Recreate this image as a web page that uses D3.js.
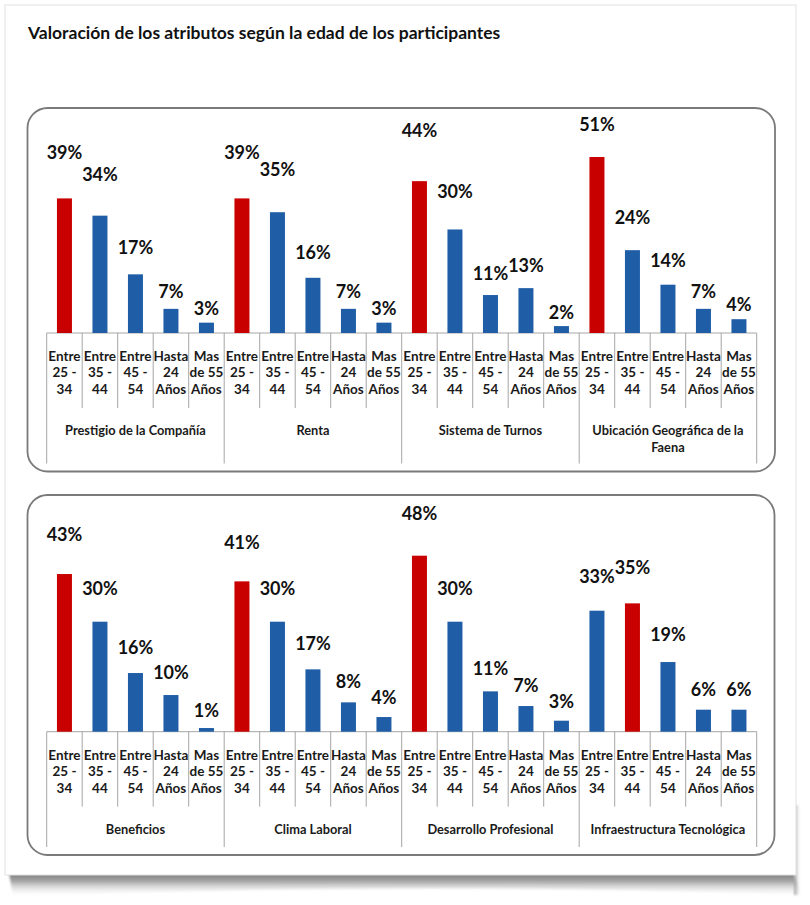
<!DOCTYPE html>
<html>
<head>
<meta charset="utf-8">
<script src="https://cdn.jsdelivr.net/npm/d3@7"></script>
<style>
  html, body { margin: 0; padding: 0; background: #ffffff; }
  svg { display: block; }
</style>
</head>
<body>
<svg id="chart" width="810" height="905"></svg>
<script>
// ---------- DATA ----------
const title = "Valoración de los atributos según la edad de los participantes";
const ageLabels = [
  ["Entre", "25 -", "34"],
  ["Entre", "35 -", "44"],
  ["Entre", "45 -", "54"],
  ["Hasta", "24", "Años"],
  ["Mas", "de 55", "Años"]
];
const groupsTop = ["Prestigio de la Compañía", "Renta", "Sistema de Turnos", "Ubicación Geográfica de la Faena"];
const valuesTop = [
  [39, 34, 17, 7, 3],
  [39, 35, 16, 7, 3],
  [44, 30, 11, 13, 2],
  [51, 24, 14, 7, 4]
];
const groupsBottom = ["Beneficios", "Clima Laboral", "Desarrollo Profesional", "Infraestructura Tecnológica"];
const valuesBottom = [
  [43, 30, 16, 10, 1],
  [41, 30, 17, 8, 4],
  [48, 30, 11, 7, 3],
  [33, 35, 19, 6, 6]
];

// ---------- STYLE / LAYOUT ----------
const RED = "#c80000", BLUE = "#1f5ea6";
const FONT = "Lato, 'Open Sans', 'DejaVu Sans', sans-serif";
const svg = d3.select("#chart");
const defs = svg.append("defs");

// card shadow
const g1 = defs.append("linearGradient").attr("id", "shadowGrad").attr("x1", 0).attr("y1", 0).attr("x2", 0).attr("y2", 1);
g1.append("stop").attr("offset", "0%").attr("stop-color", "#7a7a7a");
g1.append("stop").attr("offset", "35%").attr("stop-color", "#a8a8a8");
g1.append("stop").attr("offset", "100%").attr("stop-color", "#ffffff").attr("stop-opacity", 0);
const g2 = defs.append("linearGradient").attr("id", "sideGrad").attr("x1", 0).attr("y1", 0).attr("x2", 1).attr("y2", 0);
g2.append("stop").attr("offset", "0%").attr("stop-color", "#9a9a9a");
g2.append("stop").attr("offset", "100%").attr("stop-color", "#ffffff").attr("stop-opacity", 0);
defs.append("filter").attr("id", "blur").attr("x", "-10%").attr("y", "-50%").attr("width", "120%").attr("height", "200%")
  .append("feGaussianBlur").attr("stdDeviation", 1);

const card = {x: 5, y: 5, w: 791, h: 870};
svg.append("path")
  .attr("d", `M${card.x + 4},${card.y + card.h - 2} L${card.x + card.w - 2},${card.y + card.h - 2}
              L${card.x + card.w + 4},${card.y + card.h + 20}
              Q${card.x + card.w / 2},${card.y + card.h + 6} ${card.x + 8},${card.y + card.h + 22} Z`)
  .attr("fill", "url(#shadowGrad)").attr("filter", "url(#blur)");
svg.append("rect")
  .attr("x", card.x + card.w - 2).attr("y", card.y + card.h - 70).attr("width", 7).attr("height", 90)
  .attr("fill", "url(#sideGrad)").attr("filter", "url(#blur)");
svg.append("rect")
  .attr("x", card.x).attr("y", card.y).attr("width", card.w).attr("height", card.h)
  .attr("fill", "#ffffff").attr("stroke", "#e2e2e2").attr("stroke-width", 1);

svg.append("text")
  .attr("x", 28).attr("y", 39)
  .attr("font-family", FONT).attr("font-weight", "bold").attr("font-size", 17.5)
  .attr("fill", "#111").text(title);

const chartLeft = 46.7, chartRight = 756.7;

function wrap(textSel, width, lineH) {
  textSel.each(function () {
    const t = d3.select(this);
    const words = t.text().split(/\s+/);
    const x = t.attr("x"), y = t.attr("y");
    t.text(null);
    let line = [], tspan = t.append("tspan").attr("x", x).attr("y", y);
    let n = 0;
    for (const w of words) {
      line.push(w);
      tspan.text(line.join(" "));
      if (tspan.node().getComputedTextLength() > width && line.length > 1) {
        line.pop();
        tspan.text(line.join(" "));
        line = [w];
        n++;
        tspan = t.append("tspan").attr("x", x).attr("y", +y + n * lineH).text(w);
      }
    }
  });
}

function drawPanel(groups, values, p) {
  const root = svg.append("g");
  root.append("rect")
    .attr("x", p.rx).attr("y", p.ry).attr("width", p.rw).attr("height", p.rh)
    .attr("rx", 20).attr("ry", 20)
    .attr("fill", "#ffffff").attr("stroke", "#7a7a7a").attr("stroke-width", 1.8);

  const rows = [];
  groups.forEach((gname, gi) => {
    const gmax = d3.max(values[gi]);
    values[gi].forEach((v, ai) => rows.push({key: gi + "-" + ai, gi, ai, v, top: v === gmax}));
  });

  const x = d3.scaleBand().domain(rows.map(d => d.key)).range([chartLeft, chartRight]).padding(0);
  const gx = d3.scaleBand().domain(groups).range([chartLeft, chartRight]).padding(0);
  const maxV = d3.max(rows, d => d.v);
  const y = d3.scaleLinear().domain([0, maxV]).range([p.base, p.base - 176]);
  const yl = d3.scaleLinear().domain([0, maxV]).range([p.base - p.lOff, p.base - p.lOff - p.lSpan]);
  const bw = 15;

  // axis line + separators
  root.append("line").attr("x1", chartLeft).attr("x2", chartRight).attr("y1", p.base).attr("y2", p.base)
    .attr("stroke", "#a6a6a6").attr("stroke-width", 1);
  root.selectAll("line.tick").data(rows.filter(d => d.ai > 0)).join("line")
    .attr("x1", d => x(d.key)).attr("x2", d => x(d.key))
    .attr("y1", p.base).attr("y2", p.base + 75)
    .attr("stroke", "#a6a6a6").attr("stroke-width", 1);
  const gEdges = groups.map(g => gx(g)).concat([chartRight]);
  root.selectAll("line.gsep").data(gEdges).join("line")
    .attr("x1", d => d).attr("x2", d => d)
    .attr("y1", p.base).attr("y2", p.ry + p.rh - 8)
    .attr("stroke", "#a6a6a6").attr("stroke-width", 1);

  // bars
  root.selectAll("rect.bar").data(rows).join("rect")
    .attr("x", d => x(d.key) + (x.bandwidth() - bw) / 2)
    .attr("y", d => y(d.v))
    .attr("width", bw)
    .attr("height", d => p.base - y(d.v))
    .attr("fill", d => d.top ? RED : BLUE);

  // value labels
  root.selectAll("text.val").data(rows).join("text")
    .attr("x", d => x(d.key) + x.bandwidth() / 2)
    .attr("y", d => Math.max(p.lMin, yl(d.v)))
    .attr("text-anchor", "middle")
    .attr("font-family", FONT).attr("font-weight", "bold").attr("font-size", 18)
    .attr("fill", "#111").text(d => d.v + "%");

  // category labels
  const cat = root.selectAll("text.cat").data(rows).join("text")
    .attr("text-anchor", "middle")
    .attr("font-family", FONT).attr("font-weight", "bold").attr("font-size", 13.5)
    .attr("fill", "#1a1a1a");
  cat.each(function (d) {
    const t = d3.select(this);
    ageLabels[d.ai].forEach((ln, li) => {
      t.append("tspan").attr("x", x(d.key) + x.bandwidth() / 2).attr("y", p.base + 28 + li * 16.4).text(ln);
    });
  });

  // group labels
  root.selectAll("text.grp").data(groups).join("text")
    .attr("x", d => gx(d) + gx.bandwidth() / 2)
    .attr("y", p.base + 102)
    .attr("text-anchor", "middle")
    .attr("font-family", FONT).attr("font-weight", "bold").attr("font-size", 12.8)
    .attr("fill", "#1a1a1a").text(d => d)
    .call(wrap, 165, 16.7);
}

drawPanel(groupsTop, valuesTop, {rx: 27.5, ry: 108, rw: 747.5, rh: 363.5, base: 333, lOff: 5, lSpan: 221, lMin: 131});
drawPanel(groupsBottom, valuesBottom, {rx: 27.5, ry: 495, rw: 747, rh: 360, base: 731.7, lOff: 10.7, lSpan: 201, lMin: 0});
</script>
</body>
</html>
